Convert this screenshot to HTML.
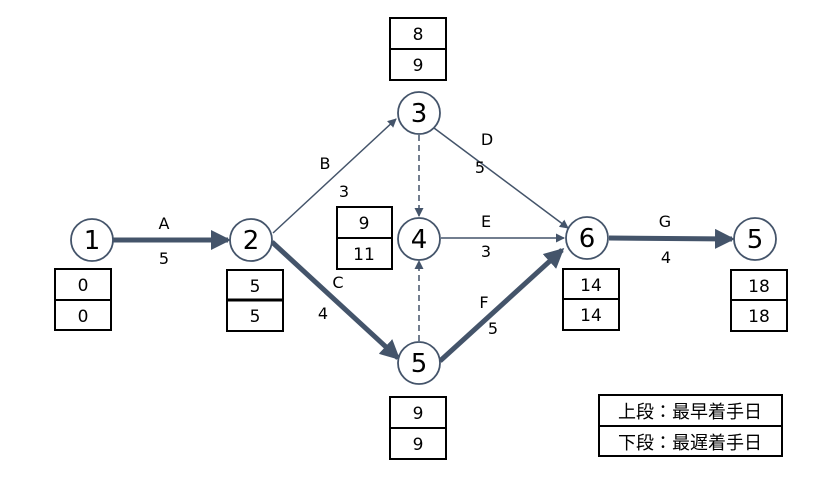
<!DOCTYPE html>
<html><head><meta charset="utf-8"><style>
html,body{margin:0;padding:0;background:#fff;}
svg{display:block;}
text{font-family:"DejaVu Sans","Liberation Sans","Noto Sans CJK JP",sans-serif;fill:#000;}
</style></head><body>
<svg width="813" height="502" viewBox="0 0 813 502" xmlns="http://www.w3.org/2000/svg">
<defs>
<marker id="ak" markerWidth="4" markerHeight="4" refX="3.4" refY="2" orient="auto" markerUnits="strokeWidth"><path d="M0,0 L4,2 L0,4 z" fill="#44546a"/></marker>
<marker id="at" markerWidth="9" markerHeight="9" refX="8" refY="4.5" orient="auto" markerUnits="userSpaceOnUse"><path d="M0,0 L9,4.5 L0,9 z" fill="#44546a"/></marker>
</defs>
<g stroke="#44546a" fill="none">
<line x1="113" y1="240" x2="228" y2="240" stroke-width="5" marker-end="url(#ak)"/>
<line x1="273" y1="233" x2="396" y2="119" stroke-width="1.5" marker-end="url(#at)"/>
<line x1="272" y1="242" x2="398" y2="358" stroke-width="5" marker-end="url(#ak)"/>
<line x1="434" y1="128" x2="568" y2="228" stroke-width="1.5" marker-end="url(#at)"/>
<line x1="419" y1="135" x2="419" y2="216" stroke-width="1.5" stroke-dasharray="6,4" marker-end="url(#at)"/>
<line x1="419" y1="341" x2="419" y2="261" stroke-width="1.5" stroke-dasharray="6,4" marker-end="url(#at)"/>
<line x1="441" y1="238" x2="564" y2="238" stroke-width="1.5" marker-end="url(#at)"/>
<line x1="440" y1="361" x2="562" y2="250" stroke-width="5" marker-end="url(#ak)"/>
<line x1="609" y1="238" x2="732" y2="239" stroke-width="5" marker-end="url(#ak)"/>
<g stroke-width="1.8" fill="#fff">
<circle cx="92" cy="240" r="21"/><circle cx="251" cy="240" r="21"/>
<circle cx="419" cy="113" r="21"/><circle cx="419" cy="239" r="21"/>
<circle cx="419" cy="363" r="21"/><circle cx="587" cy="238" r="21"/>
<circle cx="755" cy="239" r="21"/>
</g>
</g>
<g font-size="26" text-anchor="middle">
<text x="92" y="249">1</text><text x="251" y="249">2</text>
<text x="419" y="122">3</text><text x="419" y="248">4</text>
<text x="419" y="372">5</text><text x="587" y="247">6</text>
<text x="755" y="248">5</text>
</g>
<g font-size="16" text-anchor="middle">
<text x="164" y="229">A</text><text x="164" y="264">5</text>
<text x="325" y="169">B</text><text x="344" y="197">3</text>
<text x="338" y="288">C</text><text x="323" y="319">4</text>
<text x="487" y="145">D</text><text x="480" y="173">5</text>
<text x="486" y="227">E</text><text x="486" y="257">3</text>
<text x="484" y="308">F</text><text x="493" y="334">5</text>
<text x="665" y="227">G</text><text x="666" y="263">4</text>
</g>
<g stroke="#000" stroke-width="2" fill="#fff">
<rect x="55" y="269" width="56" height="61"/><line x1="55" y1="300" x2="111" y2="300"/>
<rect x="227" y="270" width="56" height="61"/><line x1="227" y1="300" x2="283" y2="300" stroke-width="3"/>
<rect x="337" y="207" width="55" height="62"/><line x1="337" y1="238" x2="392" y2="238"/>
<rect x="390" y="18" width="56" height="62"/><line x1="390" y1="49" x2="446" y2="49"/>
<rect x="390" y="397" width="56" height="62"/><line x1="390" y1="428" x2="446" y2="428"/>
<rect x="563" y="269" width="56" height="61"/><line x1="563" y1="299" x2="619" y2="299"/>
<rect x="731" y="270" width="56" height="61"/><line x1="731" y1="300" x2="787" y2="300"/>
<rect x="599" y="395" width="183" height="61"/><line x1="599" y1="426" x2="782" y2="426"/>
</g>
<g font-size="17" text-anchor="middle">
<text x="83" y="291">0</text><text x="83" y="322">0</text>
<text x="255" y="292">5</text><text x="255" y="322">5</text>
<text x="364" y="229">9</text><text x="364" y="260">11</text>
<text x="418" y="40">8</text><text x="418" y="71">9</text>
<text x="418" y="419">9</text><text x="418" y="450">9</text>
<text x="591" y="291">14</text><text x="591" y="321">14</text>
<text x="759" y="292">18</text><text x="759" y="322">18</text>
</g>
<g font-size="18" text-anchor="middle" style="font-family:'Noto Sans CJK JP',sans-serif">
<text x="690" y="418">上段：最早着手日</text>
<text x="690" y="449">下段：最遅着手日</text>
</g>
</svg>
</body></html>
